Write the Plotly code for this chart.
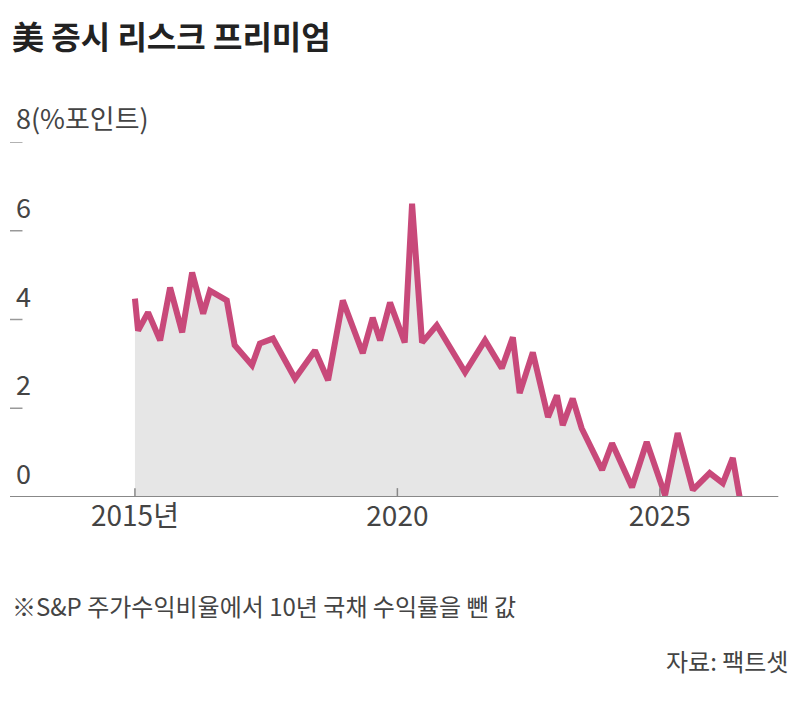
import plotly.graph_objects as go

years = [2015.00, 2015.06, 2015.25, 2015.48, 2015.67, 2015.90, 2016.09, 2016.30, 2016.43, 2016.75,
         2016.90, 2017.23, 2017.38, 2017.63, 2018.05, 2018.43, 2018.68, 2018.96, 2019.34, 2019.53,
         2019.67, 2019.86, 2020.14, 2020.28, 2020.47, 2020.75, 2021.29, 2021.67, 2021.99, 2022.20,
         2022.33, 2022.58, 2022.87, 2023.04, 2023.15, 2023.34, 2023.51, 2023.90, 2024.09, 2024.47,
         2024.75, 2025.10, 2025.34, 2025.63, 2025.95, 2026.20, 2026.39, 2026.52]
premium = [4.47, 3.75, 4.16, 3.53, 4.72, 3.71, 5.06, 4.13, 4.65, 4.43,
           3.42, 2.97, 3.46, 3.57, 2.67, 3.30, 2.63, 4.43, 3.24, 4.04,
           3.53, 4.38, 3.48, 6.61, 3.48, 3.87, 2.81, 3.53, 2.90, 3.60,
           2.34, 3.26, 1.80, 2.29, 1.62, 2.22, 1.55, 0.61, 1.21, 0.22,
           1.24, 0.04, 1.44, 0.16, 0.54, 0.31, 0.88, 0.0]
x_ticks = [2015, 2020, 2025]
x_labels = ['2015년', '2020', '2025']
y_ticks = [0, 2, 4, 6, 8]
y_labels = ['0', '2', '4', '6', '8(%포인트)']

font = 'Noto Sans CJK KR'
grey = '#444444'

fig = go.Figure()
fig.add_trace(go.Scatter(x=years, y=premium, mode='lines', fill='tozeroy',
                         fillcolor='#e6e6e6', line=dict(color='#c8497a', width=6),
                         showlegend=False))

for v, t in zip(y_ticks, y_labels):
    fig.add_annotation(x=0.005, xref='paper', y=v, yref='y', text=t, showarrow=False,
                       xanchor='left', yanchor='bottom', yshift=3,
                       font=dict(family=font, size=27, color=grey))
    if v > 0:
        fig.add_shape(type='line', xref='paper', x0=0, x1=0.016, yref='y', y0=v, y1=v,
                      line=dict(color='#999999', width=1.5))

fig.add_shape(type='line', xref='paper', x0=0, x1=0.985, yref='y', y0=0, y1=0,
              line=dict(color='#888888', width=2))
for xt in x_ticks:
    fig.add_shape(type='line', x0=xt, x1=xt, yref='y', y0=0, y1=0.2,
                  line=dict(color='#888888', width=1.5))

fig.add_annotation(x=0.0, xref='paper', y=1.0, yref='paper', yshift=107,
                   text='<b>美 증시 리스크 프리미엄</b>', showarrow=False,
                   xanchor='left', yanchor='middle',
                   font=dict(family=font, size=32, color='#222222'))
fig.add_annotation(x=0.0, xref='paper', y=0, yref='paper', yshift=-108,
                   text='※S&P 주가수익비율에서 10년 국채 수익률을 뺀 값', showarrow=False,
                   xanchor='left', yanchor='middle',
                   font=dict(family=font, size=24, color=grey))
fig.add_annotation(x=1.0, xref='paper', y=0, yref='paper', yshift=-163,
                   text='자료: 팩트셋', showarrow=False,
                   xanchor='right', yanchor='middle',
                   font=dict(family=font, size=24, color=grey))

fig.update_layout(
    width=800, height=704,
    margin=dict(l=2, r=18, t=134, b=215),
    paper_bgcolor='white', plot_bgcolor='white',
    xaxis=dict(range=[2012.62, 2027.48], tickvals=x_ticks, ticktext=x_labels,
               showgrid=False, zeroline=False, ticks='',
               tickfont=dict(family=font, size=28, color=grey)),
    yaxis=dict(range=[0, 8], showgrid=False, zeroline=False, showticklabels=False),
)

fig.write_html('out.html')
